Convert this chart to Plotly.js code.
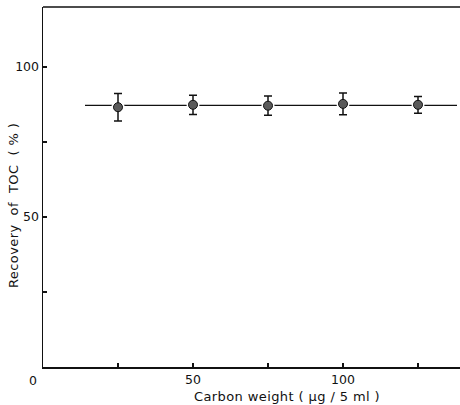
<!DOCTYPE html>
<html>
<head>
<meta charset="utf-8">
<script src="https://cdn.plot.ly/plotly-3.0.1.min.js"></script>
<style>
html,body{margin:0;padding:0;background:#fff;}
#chart{width:460px;height:405px;}
.annotation-text{letter-spacing:0.4px;}
</style>
</head>
<body>
<div id="chart"></div>
<script>
// Data
const carbonWeight = [25, 50, 75, 100, 125];          // µg / 5 ml
const recovery     = [86.6, 87.4, 87.1, 87.7, 87.4];  // % TOC recovered
const recoveryErr  = [4.6, 3.2, 3.2, 3.6, 2.8];       // ± error
const meanLineX    = [14, 138];
const meanLineY    = [87.2, 87.2];
const xTickVals    = [25, 50, 75, 100, 125];
const xTickText    = ['', '50', '', '100', ''];
const yTickVals    = [25, 50, 75, 100];
const yTickText    = ['', '50', '', '100'];
const xTitle = 'Carbon weight ( µg / 5 ml )';
const yTitle = 'Recovery  of  TOC  ( % )';

const font = {family: 'DejaVu Sans, sans-serif', size: 12.5, color: '#111'};
const titleFont = {family: 'DejaVu Sans, sans-serif', size: 13, color: '#111'};

const traces = [
  {x: meanLineX, y: meanLineY, mode: 'lines', line: {color: '#111', width: 1.3}, hoverinfo: 'skip'},
  {x: carbonWeight, y: recovery, mode: 'markers',
   marker: {size: 13, color: '#fff', line: {width: 0}}, hoverinfo: 'skip'},
  {x: carbonWeight, y: recovery, mode: 'markers',
   error_y: {type: 'data', array: recoveryErr, visible: true, color: '#111', thickness: 1.5, width: 4},
   marker: {size: 9, color: '#5a5a5a', line: {color: '#111', width: 1}}}
];

const layout = {
  width: 460, height: 405,
  margin: {l: 43, r: 0, t: 7, b: 38},
  showlegend: false,
  paper_bgcolor: '#fff', plot_bgcolor: '#fff',
  font: font,
  xaxis: {
    range: [0, 139], showgrid: false, zeroline: false,
    showline: true, linecolor: '#111', linewidth: 1.5,
    ticks: 'inside', ticklen: 4, tickwidth: 1.2, tickcolor: '#111',
    tickmode: 'array', tickvals: xTickVals, ticktext: xTickText,
    tickfont: font
  },
  yaxis: {
    range: [0, 120], showgrid: false, zeroline: false,
    showline: true, linecolor: '#111', linewidth: 1.5,
    ticks: 'inside', ticklen: 4, tickwidth: 1.2, tickcolor: '#111',
    tickmode: 'array', tickvals: yTickVals, ticktext: yTickText,
    tickfont: font
  },
  shapes: [
    {type: 'line', xref: 'paper', yref: 'paper', x0: 0, x1: 1, y0: 1, y1: 1,
     line: {color: '#111', width: 1.5}}
  ],
  annotations: [
    {text: '0', xref: 'paper', yref: 'paper', x: -0.025, y: 0, xanchor: 'center', yanchor: 'top',
     yshift: -4, showarrow: false, font: font},
    {text: xTitle, xref: 'paper', yref: 'paper', x: 0.585, y: 0, xanchor: 'center', yanchor: 'middle',
     yshift: -29, showarrow: false, font: titleFont},
    {text: yTitle, xref: 'paper', yref: 'paper', x: -0.072, y: 0.45, xanchor: 'center', yanchor: 'middle',
     textangle: -90, showarrow: false, font: titleFont}
  ]
};

Plotly.newPlot('chart', traces, layout, {staticPlot: true, displayModeBar: false});
</script>
</body>
</html>
